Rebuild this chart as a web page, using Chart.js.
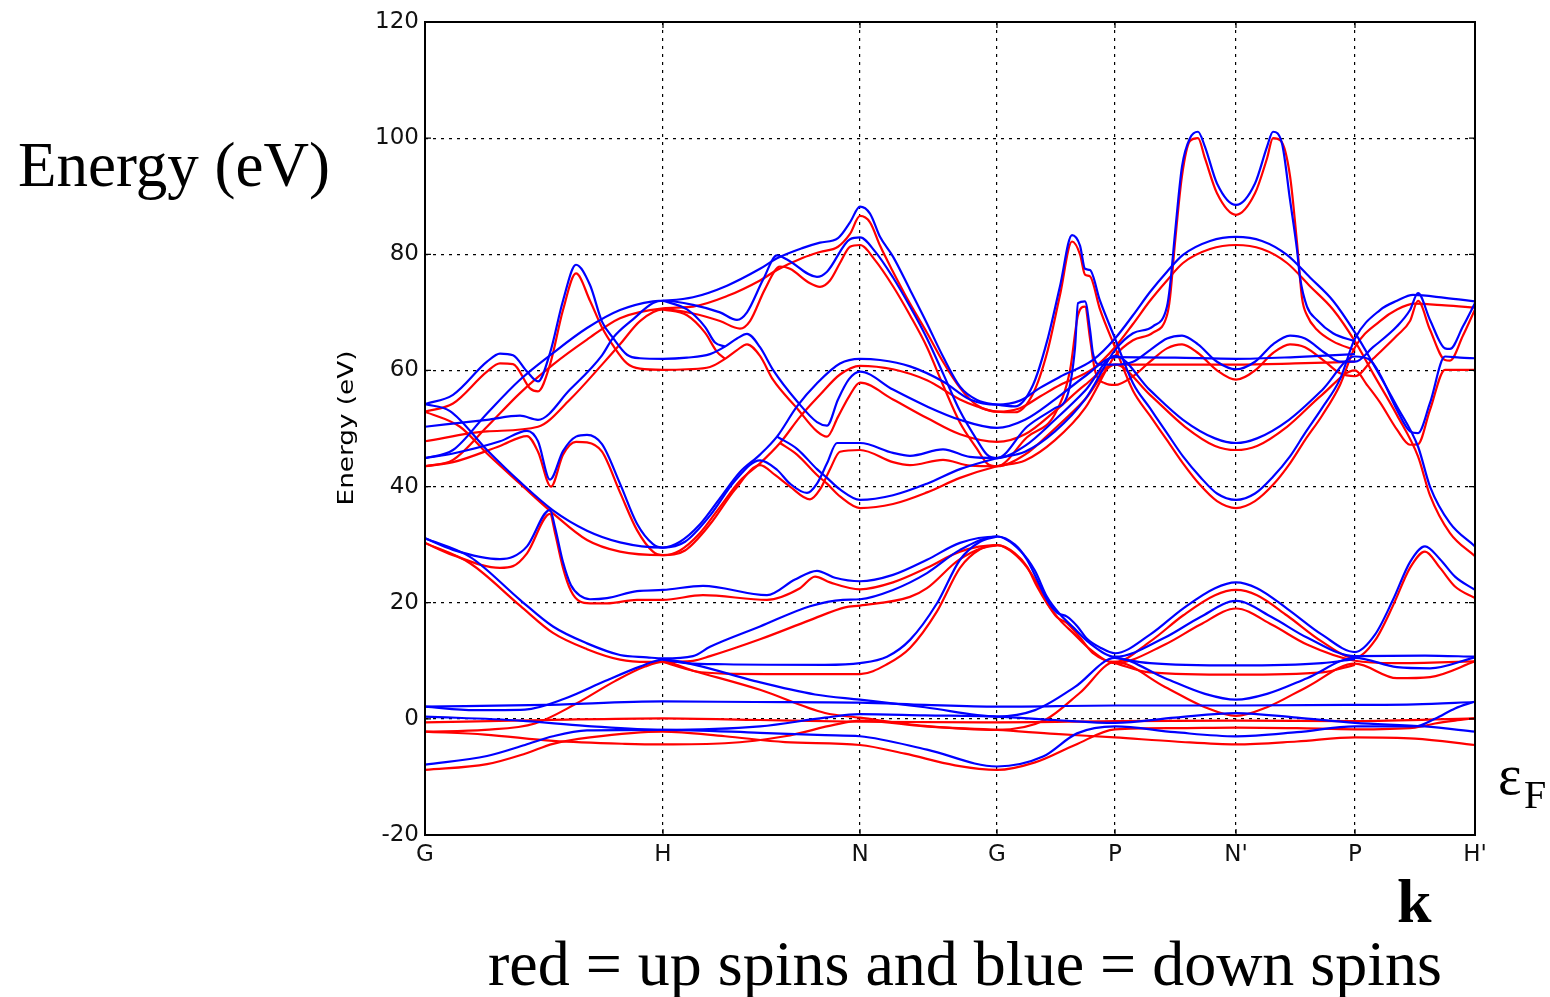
<!DOCTYPE html>
<html lang="en">
<head>
  <meta charset="UTF-8" />
  <title>Band structure - up and down spins</title>
  <script src="https://cdn.jsdelivr.net/npm/chart.js"></script>
  <style>
    body { margin: 0; background: #ffffff; }
    #wrap { position: relative; width: 1550px; height: 997px; }
  </style>
</head>
<body>
  <div id="wrap"><canvas id="bands" width="1550" height="997"></canvas></div>
  <script>
    // k-path positions of the high symmetry points and their labels
    const kTicks = [0, 238, 435, 572, 690, 811, 930, 1050];
    const kLabels = ['G', 'H', 'N', 'G', 'P', "N'", 'P', "H'"];

    // down spins (blue), [k, energy in eV]
    const dn1 = [[0,54.2],[28,55.8],[62,61.5],[75,62.9],[88,62.6],[102,59.8],[113,58.1],[125,63],[138,72],[151,78.2],[165,74.7],[177,68.4],[188,65.6],[202,62.7],[215,62.1],[238,62],[262,62.2],[285,62.8],[300,64.1],[312,65.5],[322,66.3],[335,64],[348,60.1],[372,54.7],[392,51.1],[402,50.5],[413,55],[424,58.5],[435,59.8],[468,56.7],[502,53.8],[535,51.5],[572,50.1],[600,51.5],[630,55],[660,59],[690,62.3],[750,62.2],[811,62],[870,62.3],[930,62.8]];
    const dn2 = [[0,44.9],[28,46.3],[62,52.6],[95,58.4],[128,63],[162,67.3],[195,70.4],[228,71.9],[238,72],[268,72.6],[302,74.6],[335,77.5],[352,79.3],[378,81.1],[395,82],[413,82.8],[425,85.5],[435,88.2],[445,87],[455,83],[468,79.6],[485,73.9],[502,68.1],[518,62.4],[535,57.2],[552,54.9],[572,54.1],[590,53.8],[608,57.5],[622,65],[635,74.5],[647,83.3],[655,81.5],[660,77.5],[665,77.3],[675,72],[690,65.5],[708,57.8],[725,53.5],[742,49.2],[758,45.2],[775,41.7],[792,38.8],[811,37.7],[830,38.8],[848,41.7],[865,45.2],[880,49.2],[897,53.5],[915,58.5],[930,65.5],[955,70.4],[972,72],[988,73],[1020,72.5],[1050,71.9]];
    const dn3 = [[0,50.3],[62,51.5],[95,52.2],[113,51.5],[145,56.7],[177,62.6],[188,65.6],[208,68.8],[228,71.6],[238,72],[268,71.3],[295,70],[312,68.7],[322,70],[338,75.6],[352,79.8],[362,79.1],[392,76.1],[402,77],[425,82.6],[435,82.9],[450,80.5],[468,76],[485,71],[502,65.5],[518,59.5],[535,53],[552,48],[562,45.5],[572,44.9],[602,50.3],[630,53.5],[642,55.5],[650,63.9],[653,71.6],[660,71.9],[665,67],[668,62.9],[675,61],[690,61],[708,61.5],[725,63.5],[742,65.5],[757,66],[773,64.5],[792,61.5],[811,60.2],[830,61.5],[848,64.5],[865,66],[880,65.5],[900,63],[915,61.5],[930,61.5],[948,64],[972,67.6],[985,70.4],[993,73.3],[1005,68.7],[1020,63.8],[1025,63.7],[1038,67.6],[1050,71.6]];
    const dn4 = [[0,54.2],[25,53],[62,46.3],[95,40.8],[128,35.9],[162,32.4],[195,30.4],[238,29.5],[255,30.5],[275,33.5],[295,38],[315,42.5],[335,45.5],[352,48.6],[372,53.8],[392,57.8],[415,61.2],[435,62],[455,61.8],[485,60.7],[518,58.1],[545,55],[572,54.1],[595,54.8],[615,57],[635,58.9],[668,61.8],[690,65.5],[708,69.5],[725,73.5],[742,77],[758,79.9],[785,82.3],[811,83],[837,82.3],[862,79.9],[885,76],[908,72],[930,66.5],[948,61.2],[972,53.8],[993,46.9],[1005,40],[1025,33.7],[1050,29.7]];
    const dn5 = [[0,44.9],[28,45.7],[75,47.8],[102,49.6],[113,47.8],[125,41.2],[138,46.1],[151,48.6],[162,48.9],[177,47.3],[195,40.5],[212,33.6],[228,30.1],[238,29.5],[260,30.5],[285,35],[310,41],[335,44.5],[352,42.9],[365,40.5],[382,38.9],[392,40.5],[402,44],[412,47.5],[435,47.5],[468,45.8],[485,45.3],[518,46.4],[545,45.1],[572,44.9],[600,47],[630,51.5],[660,56.5],[690,62.5],[725,56.6],[758,51.5],[790,48.3],[811,47.5],[832,48.3],[864,51.5],[897,56.6],[930,62.4],[945,61.8],[955,59.3],[972,53.2],[985,49.5],[993,49.2],[1005,54.4],[1020,62.4],[1035,62.2],[1050,62.1]];
    const dn6 = [[352,48.6],[372,46.5],[392,43],[402,41.5],[415,39.5],[435,37.7],[468,38.5],[502,40.5],[535,43],[572,44.9],[600,46],[630,49.5],[660,55],[690,63.5],[708,66.4],[728,67.6],[742,71],[745,74.5],[750,83.6],[757,95.1],[765,100],[773,101.1],[780,98.5],[792,92.2],[811,88.5],[830,92.2],[842,98.5],[848,101.1],[857,99.1],[865,89.4],[872,80.8],[875,76],[882,71],[892,68.7],[908,66.4],[930,65]];
    const dn7 = [[238,72],[262,70.5],[280,67.5],[290,64.8],[300,64.1]];
    const dn8 = [[0,31.1],[28,29.1],[75,27.5],[88,27.9],[102,29.7],[125,36],[130,33],[138,27],[146,23],[155,21.2],[165,20.6],[182,20.8],[212,22],[238,22.2],[278,22.9],[342,21.3],[370,24],[392,25.5],[410,24.3],[435,23.7],[468,24.8],[502,27.4],[535,30.3],[572,31.4],[590,30],[602,27.4],[612,24],[622,20.5],[632,18.3],[642,17.6],[652,16],[662,13.8],[675,12.3],[690,11.3],[725,14.5],[758,19],[790,22.5],[811,23.5],[832,22.5],[862,19],[897,14.5],[930,11.5],[950,14.5],[968,20.5],[985,27],[1000,29.7],[1015,27.5],[1030,24.5],[1050,22.2]];
    const dn9 = [[0,31.1],[45,27.9],[95,20.5],[128,15.9],[162,13],[195,11],[222,10.6],[238,10.4],[268,10.8],[285,12.4],[335,15.9],[385,19.4],[418,20.5],[435,20.6],[468,22.2],[502,25.1],[535,29.1],[572,31.4],[595,29],[610,25.5],[622,21],[635,18],[648,15.8],[665,13],[690,10.7],[740,14],[775,17.5],[811,20.3],[847,17.5],[882,14],[930,10.8],[1000,10.9],[1050,10.7]];
    const dn10 = [[238,10.2],[262,9.6],[300,9.4],[400,9.3],[435,9.6],[462,10.7],[485,13.6],[512,19.9],[535,27.4],[555,30.5],[572,31.4]];
    const dn11 = [[690,10.5],[725,9.6],[811,9.2],[897,9.6],[930,10.3]];
    const dnLow1 = [[0,2.1],[120,2.4],[238,3],[330,2.9],[435,2.8],[500,2.4],[572,2.1],[690,2.3],[811,2.3],[930,2.4],[990,2.5],[1050,2.9]];
    const dnLow2 = [[0,2.1],[50,1.5],[100,1.6],[140,3.5],[180,6.5],[215,9],[238,10.2],[270,9.3],[330,6.5],[390,4.2],[435,3.3],[500,2],[572,0.4],[610,1.5],[650,5.5],[690,10.5],[740,7],[780,4.3],[811,3.3],[842,4.3],[882,7],[930,10.5],[972,8.9],[1005,8.7],[1050,10.6]];
    const dnLow3 = [[0,0.4],[95,-0.3],[160,-1.2],[238,-1.9],[335,-1.3],[400,0.2],[435,0.8],[500,0.6],[572,0.4],[630,-0.2],[690,-0.7],[750,0.2],[811,1],[872,0.2],[930,-0.7],[1000,-1.3],[1050,-2.2]];
    const dnLow4 = [[0,-7.9],[62,-6.4],[100,-4.5],[128,-3],[162,-2],[238,-1.9],[335,-2.4],[400,-2.8],[435,-3],[502,-5.3],[572,-8.2],[618,-6.5],[652,-2.5],[690,-1.3],[750,-2.3],[811,-3],[872,-2.3],[930,-1.3],[990,-1.3],[1010,0],[1030,1.8],[1050,3]];

    // up spins (red)
    const up1 = [[0,52.9],[28,54.3],[62,59.8],[75,61.2],[88,61.1],[105,56.9],[113,56.4],[125,61],[138,70.4],[151,76.7],[165,72],[177,67.4],[188,64.3],[202,61.2],[215,60.3],[238,60.1],[262,60.2],[285,60.6],[300,62],[312,63.5],[322,64.5],[335,62.5],[348,58.4],[372,53.5],[392,49.5],[402,48.6],[413,52],[424,55.5],[435,57.9],[468,55],[502,51.8],[535,49],[572,47.7],[600,49],[630,53],[660,57.5],[690,61],[750,61],[811,61],[870,61.2],[930,61.5]];
    const up2 = [[0,43.5],[28,44.6],[62,50.3],[95,56.1],[128,61],[162,65.3],[195,69],[238,70.7],[268,71],[302,72.8],[335,75.5],[352,77.3],[378,79.4],[395,80.4],[413,81.3],[425,83.5],[435,86.6],[445,85.5],[455,81.5],[468,77],[485,71.5],[502,66.5],[518,61.5],[535,57],[552,54],[572,52.9],[590,52.8],[608,56],[622,63],[635,73],[647,82.2],[655,80],[660,76.5],[665,76.2],[675,70.5],[690,64],[708,56.5],[725,52.2],[742,48],[758,44],[775,40.3],[792,37.5],[811,36.3],[830,37.5],[848,40.3],[865,44],[880,48],[897,52.2],[915,57.5],[930,64],[955,68.5],[972,70.5],[990,71.5],[1020,71.2],[1050,70.8]];
    const up3 = [[0,47.8],[62,49.5],[113,50.3],[145,55],[177,61],[195,64.5],[215,68.5],[238,70.5],[268,69.8],[295,68.5],[315,67.2],[325,68.5],[340,74],[355,77.9],[365,77.5],[385,75],[395,74.4],[405,75.5],[415,78.5],[425,81.3],[435,81.6],[450,79],[468,74.5],[485,69.5],[502,64],[518,57.5],[535,51],[552,46.5],[562,44],[572,43.5],[602,48.5],[630,52.5],[645,60],[653,69.5],[660,71],[665,65.5],[670,60],[680,57.8],[690,57.5],[708,59],[725,61.5],[742,63.8],[757,64.5],[773,63],[792,60],[811,58.4],[830,60],[848,63],[865,64.5],[880,64],[900,61.5],[915,59.5],[930,59],[948,62],[972,66],[985,68.5],[993,72],[1005,67],[1020,61.8],[1025,61.7],[1038,66],[1050,70.5]];
    const up4 = [[0,52.9],[35,50.3],[62,45.7],[95,40.5],[128,35.4],[162,30.8],[195,28.8],[238,28.2],[255,29],[275,32],[295,36.5],[315,41],[335,44],[355,47.5],[375,52],[395,55.8],[415,59.3],[435,60.8],[468,60.2],[502,58.3],[535,55],[552,53.8],[572,52.9],[595,53.5],[615,55.5],[635,57.5],[668,60.3],[690,64],[708,68],[725,72],[742,75.5],[758,78.5],[785,80.9],[811,81.6],[837,80.9],[862,78.5],[885,74.5],[908,70.5],[930,65],[948,59.5],[972,52.3],[993,45.2],[1005,38.5],[1025,32],[1050,28]];
    const up5 = [[0,43.5],[28,44.2],[75,47],[102,48.7],[113,46],[126,40],[138,45.5],[151,47.7],[162,47.6],[177,46],[195,39],[212,32.5],[228,28.8],[238,28.2],[260,29],[285,33.5],[310,39.5],[335,43.7],[350,42],[365,40],[385,37.8],[395,39.5],[405,43],[415,46],[435,46.3],[468,44.2],[485,43.7],[518,44.6],[545,43.6],[572,43.5],[600,45.5],[630,50],[660,55],[690,61],[725,55.8],[760,50.3],[790,47],[811,46.3],[832,47],[862,50.3],[897,55.8],[930,60],[942,57.5],[955,54.5],[972,49.8],[985,47.2],[993,47.3],[1005,53.2],[1020,60.1],[1050,60.1]];
    const up6 = [[355,47.5],[372,45.5],[392,42],[402,40.5],[415,38.3],[435,36.3],[468,37],[502,39],[535,41.5],[572,43.5],[600,44.5],[630,48],[660,53.5],[690,62.5],[708,65.2],[728,66.5],[742,69.5],[745,72.5],[750,82],[757,93.5],[765,99.5],[773,100],[780,96.5],[792,90.5],[811,86.8],[830,90.5],[842,96.5],[848,100],[856,99.5],[865,93.5],[872,82],[877,72.5],[882,69.5],[892,67],[908,65],[930,63.5]];
    const up7 = [[238,70.5],[262,69.5],[280,66.5],[292,63.2],[300,62]];
    const up8 = [[0,30.3],[28,28.2],[75,26],[88,26.3],[102,28.5],[125,35.3],[130,32],[138,26],[146,22],[155,20.2],[165,19.9],[182,19.9],[212,20.5],[238,20.5],[278,21.3],[342,20.5],[375,22.5],[390,24.5],[405,23.5],[435,22.3],[468,23.5],[502,26],[535,28.8],[572,29.9],[590,28.5],[602,26.2],[612,22.8],[622,19.9],[632,17.5],[642,16.5],[655,14],[668,11.3],[690,9.8],[725,13.3],[758,17.8],[790,21.3],[811,22.2],[832,21.3],[862,17.8],[897,13.3],[930,10.5],[950,13.5],[968,19.5],[985,26],[1000,28.8],[1015,26],[1030,22.8],[1050,20.8]];
    const up9 = [[0,30.3],[45,26.8],[95,19.5],[128,14.8],[162,12],[195,10.2],[222,9.8],[238,9.8],[268,10],[285,10.8],[335,13.7],[385,17],[420,19.2],[435,19.5],[485,21],[502,22.5],[535,27.5],[572,29.9],[595,27.5],[610,24],[622,20],[635,17],[648,14.8],[665,12],[690,9.6],[740,12.8],[775,16.2],[811,19],[847,16.2],[882,12.8],[930,10],[970,9.6],[1050,9.9]];
    const up10 = [[238,9.8],[270,8.2],[300,7.8],[400,7.7],[435,7.7],[462,9.4],[485,12.2],[512,18.5],[535,26],[555,29.2],[572,29.9]];
    const up11 = [[690,9.6],[725,8],[811,7.6],[897,8],[930,9.3]];
    const upLow1 = [[0,-0.6],[120,-0.2],[238,0.1],[335,-0.2],[435,-0.5],[572,-0.6],[690,-0.4],[811,-0.3],[930,-0.4],[1050,0.1]];
    const upLow2 = [[0,-2.2],[60,-1.9],[110,-0.8],[150,2.5],[190,6.5],[220,9],[238,9.8],[270,8.2],[335,5],[400,1],[435,0.2],[500,-1.2],[572,-1.9],[620,-0.2],[655,4.5],[690,9.8],[740,5.5],[780,2],[811,0.5],[842,2],[882,5.5],[930,9.5],[972,7],[1005,7.2],[1050,9.9]];
    const upLow3 = [[0,-2.2],[60,-2.7],[128,-3.8],[200,-4.3],[238,-4.4],[300,-4.2],[360,-3],[410,-1],[435,-0.3],[500,-1.3],[572,-1.9],[630,-2.6],[690,-3.2],[750,-3.9],[811,-4.4],[872,-3.9],[930,-3.2],[990,-3.4],[1050,-4.5]];
    const upLow4 = [[0,-8.8],[62,-7.8],[100,-6],[128,-4.3],[165,-3.2],[238,-2.2],[300,-3],[360,-4],[435,-4.5],[480,-6],[530,-8],[572,-8.8],[610,-7.5],[650,-4.5],[690,-1.8],[750,-1.6],[811,-1.5],[872,-1.6],[930,-1.8],[990,-1.5],[1010,-0.8],[1030,-0.3],[1050,0.1]];

    const downBands = [dn1, dn2, dn3, dn4, dn5, dn6, dn7, dn8, dn9, dn10, dn11, dnLow1, dnLow2, dnLow3, dnLow4];
    const upBands = [up1, up2, up3, up4, up5, up6, up7, up8, up9, up10, up11, upLow1, upLow2, upLow3, upLow4];

    function bandDataset(band, color) {
      return {
        data: band.map(p => ({ x: p[0], y: p[1] })),
        borderColor: color,
        borderWidth: 2.2,
        pointRadius: 0,
        fill: false,
        cubicInterpolationMode: 'monotone'
      };
    }

    const datasets = downBands.map(b => bandDataset(b, '#0000ff'))
      .concat(upBands.map(b => bandDataset(b, '#ff0000')));

    // frame, inward ticks and the free text round the plot
    const decorations = {
      id: 'decorations',
      afterDatasetsDraw(chart) {
        const { ctx, chartArea: a } = chart;
        const xs = chart.scales.x, ys = chart.scales.y;
        ctx.save();
        ctx.strokeStyle = '#000';
        ctx.lineWidth = 1.2;
        ctx.beginPath();
        kTicks.forEach(k => {
          const px = xs.getPixelForValue(k);
          ctx.moveTo(px, a.bottom); ctx.lineTo(px, a.bottom - 6);
          ctx.moveTo(px, a.top); ctx.lineTo(px, a.top + 6);
        });
        for (let e = -20; e <= 120; e += 20) {
          const py = ys.getPixelForValue(e);
          ctx.moveTo(a.left, py); ctx.lineTo(a.left + 6, py);
          ctx.moveTo(a.right, py); ctx.lineTo(a.right - 6, py);
        }
        ctx.stroke();
        ctx.lineWidth = 2;
        ctx.strokeRect(a.left, a.top, a.right - a.left, a.bottom - a.top);
        ctx.restore();
      },
      afterDraw(chart) {
        const ctx = chart.ctx;
        ctx.save();
        ctx.fillStyle = '#000';
        ctx.textBaseline = 'alphabetic';

        ctx.font = '63px "Liberation Serif"';
        ctx.textAlign = 'left';
        ctx.fillText('Energy (eV)', 18, 186);

        ctx.save();
        ctx.translate(353, 428);
        ctx.rotate(-Math.PI / 2);
        ctx.scale(1.25, 1);
        ctx.font = '21px "DejaVu Sans"';
        ctx.textAlign = 'center';
        ctx.fillText('Energy (eV)', 0, 0);
        ctx.restore();

        ctx.font = '56px "Liberation Serif"';
        ctx.fillText('\u03b5', 1498, 794);
        ctx.font = '40px "Liberation Serif"';
        ctx.fillText('F', 1524, 808);

        ctx.font = 'bold 62px "Liberation Serif"';
        ctx.fillText('k', 1397, 922);

        ctx.font = '64px "Liberation Serif"';
        ctx.textAlign = 'center';
        ctx.fillText('red = up spins and blue = down spins', 965, 985);
        ctx.restore();
      }
    };

    new Chart(document.getElementById('bands'), {
      type: 'line',
      data: { datasets },
      options: {
        responsive: false,
        animation: false,
        layout: { padding: { top: 22, right: 75, bottom: 0, left: 0 } },
        plugins: { legend: { display: false }, tooltip: { enabled: false } },
        scales: {
          x: {
            type: 'linear',
            min: 0,
            max: 1050,
            afterBuildTicks: s => { s.ticks = kTicks.map(v => ({ value: v })); },
            afterFit: s => { s.height = 162; },
            ticks: {
              autoSkip: false,
              maxRotation: 0,
              padding: 6,
              color: '#111',
              font: { family: 'DejaVu Sans', size: 23 },
              callback: (v, i) => kLabels[i]
            },
            grid: { color: '#000', lineWidth: 1.2, drawTicks: false },
            border: { display: false, dash: [3, 5] }
          },
          y: {
            min: -20,
            max: 120,
            afterFit: s => { s.width = 425; },
            ticks: {
              stepSize: 20,
              padding: 6,
              color: '#111',
              font: { family: 'DejaVu Sans', size: 23 }
            },
            grid: { color: '#000', lineWidth: 1.2, drawTicks: false },
            border: { display: false, dash: [3, 5] }
          }
        }
      },
      plugins: [decorations]
    });
  </script>
</body>
</html>
